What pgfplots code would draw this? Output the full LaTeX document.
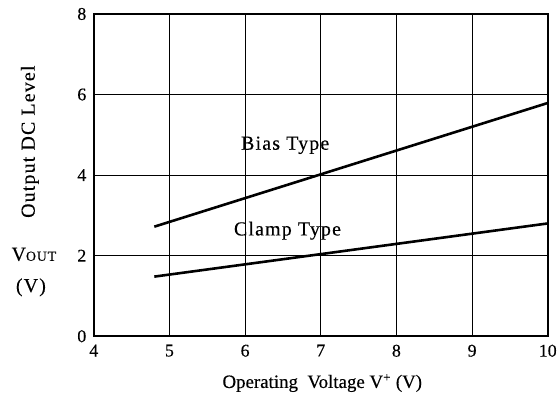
\documentclass[border=0pt]{standalone}
\usepackage{fontspec}
\setmainfont{Liberation Serif}[FakeBold=0.3]
\newfontfamily\lab[LetterSpace=6,FakeBold=0.3]{Liberation Serif}
\usepackage{pgfplots}
\pgfplotsset{compat=1.18}
\usetikzlibrary{calc}
\begin{document}
\begin{tikzpicture}[every node/.append style={font=\lab\fontsize{20}{22}\selectfont}]
\begin{axis}[name=ax,
  scale only axis, width=455bp, height=323bp,
  xmin=4, xmax=10, ymin=0, ymax=8,
  xtick={4,5,6,7,8,9,10}, ytick={0,2,4,6,8},
  grid=major, major grid style={black, line width=0.9bp},
  axis line style={black, line width=1.6bp},
  major tick length=0pt,
  tick label style={font=\rmfamily\fontsize{18}{19}\selectfont},
  /pgf/number format/assume math mode=true,
  xticklabel style={yshift=-5bp},
  yticklabel style={xshift=-4bp},
  clip=false,
]
\addplot[black, line width=2.6bp] coordinates {(4.8,2.72) (10,5.79)};
\addplot[black, line width=2.6bp] coordinates {(4.8,1.48) (10,2.8)};
\node at (axis cs:6.53,4.74) {Bias Type};
\node at (axis cs:6.56,2.62) {Clamp Type};
\end{axis}
\node[rotate=90] at ($(ax.south west)+(-64bp,195bp)$) {Output DC Level};
\node at ($(ax.south west)+(-60bp,82bp)$) {V{\fontsize{14}{15}\selectfont OUT}};
\node at ($(ax.south west)+(-63bp,49bp)$) {(V)};
\node[font=\rmfamily\fontsize{19}{21}\selectfont] at ($(ax.south west)+(229bp,-47bp)$) {Operating\ \ Voltage V\textsuperscript{+} (V)};
\path[use as bounding box] ($(ax.south west)+(-94bp,-65bp)$) rectangle ($(ax.north east)+(11bp,14bp)$);
\end{tikzpicture}
\end{document}
